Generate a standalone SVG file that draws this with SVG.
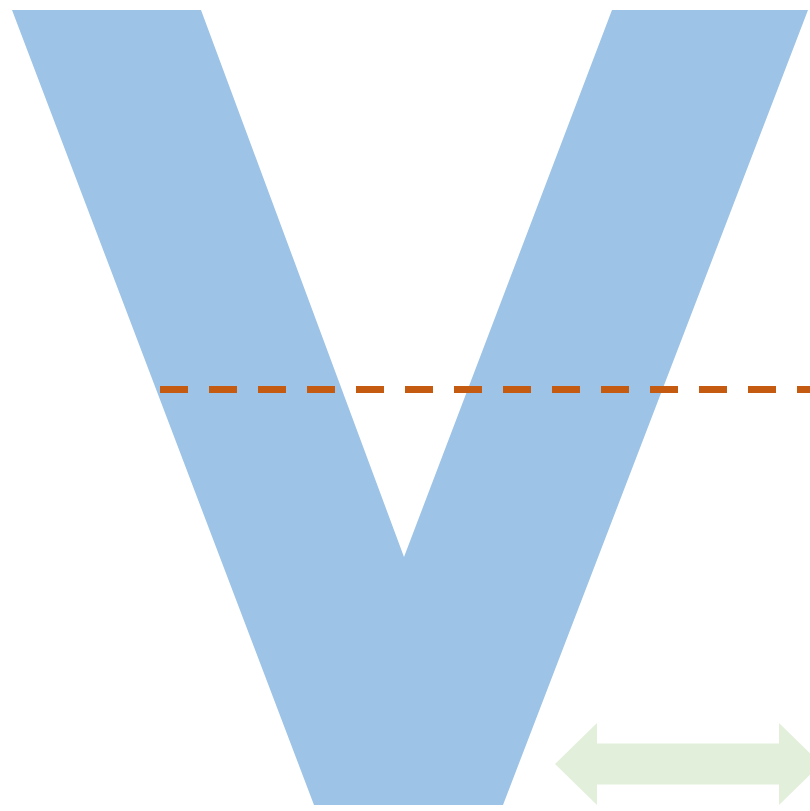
<svg xmlns="http://www.w3.org/2000/svg" width="810" height="811" viewBox="0 0 810 811">
<style>
.v{fill:#9dc3e6}
.dash{stroke:#c55a11;stroke-width:7;stroke-dasharray:28 21;fill:none}
.arr{fill:#e2efda}
</style>
<rect width="810" height="811" fill="#ffffff"/>
<g id="letter-v">
<polygon class="v" points="12,10 201,10 404,557 612,10 808,10 503,805 314,805"/>
</g>
<g id="connectors">
<line class="dash" x1="160" y1="389.5" x2="830" y2="389.5"/>
</g>
<g id="double-arrow">
<polygon class="arr" points="555,764 597,723 597,743.5 779,743.5 779,723 821,764 779,805 779,784.5 597,784.5 597,805"/>
</g>
</svg>
